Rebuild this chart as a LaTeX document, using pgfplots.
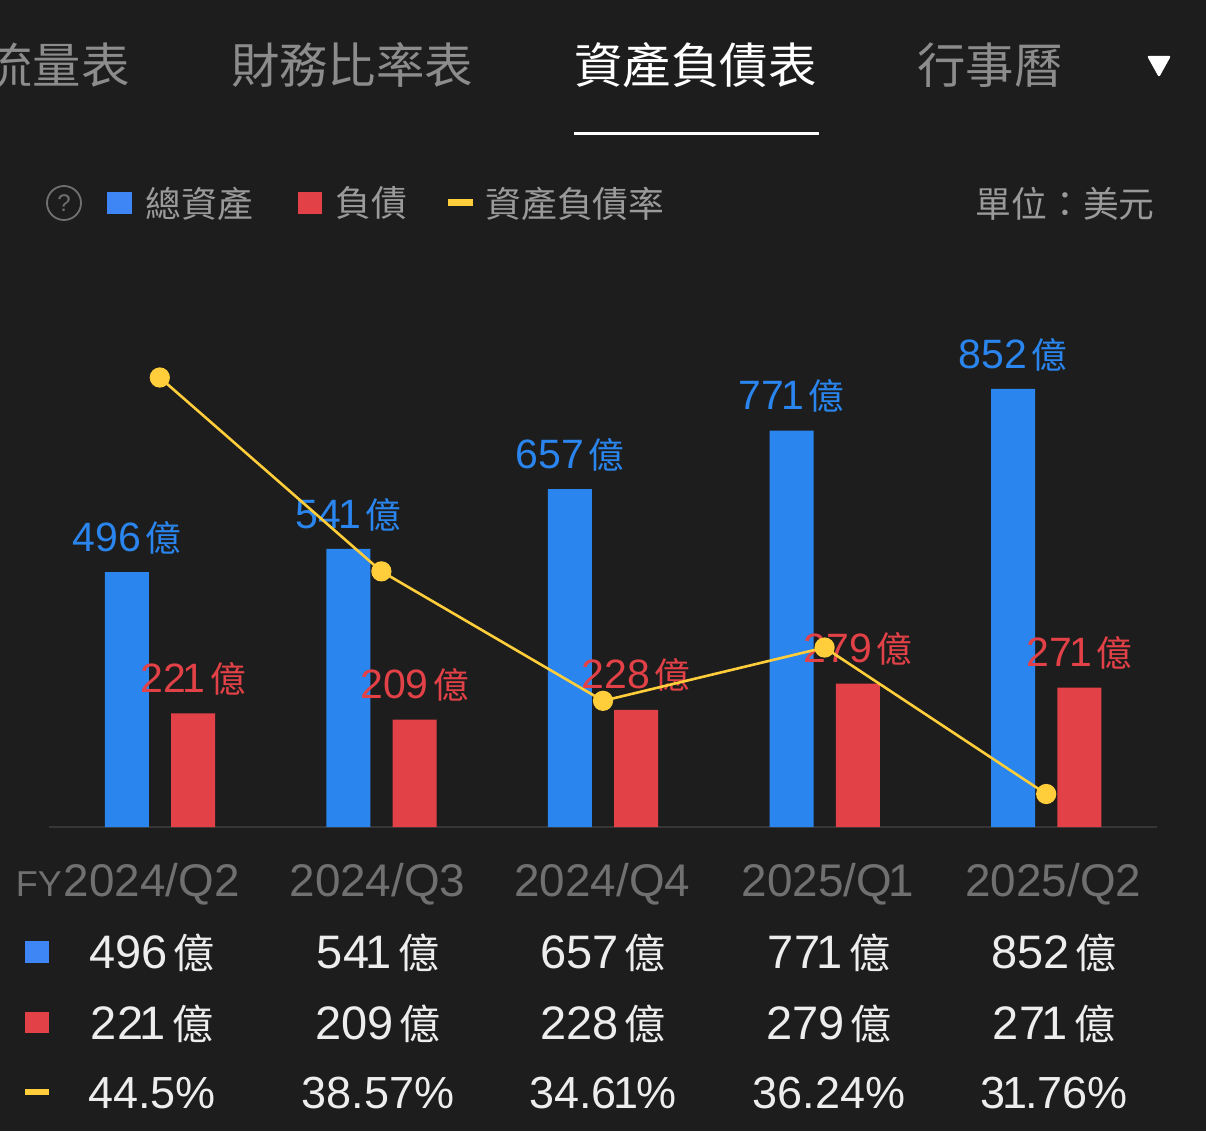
\documentclass[border=0pt]{standalone}
\usepackage{fontspec}
\setmainfont{Liberation Sans}
\newfontfamily\cjk{Noto Sans CJK TC}
\usepackage{pgfplots}
\usepackage{pgfplotstable}
\pgfplotsset{compat=1.18}

% the reference sets a narrow digit one
\XeTeXinterchartokenstate=1
\newXeTeXintercharclass\oneclass
\XeTeXcharclass`1=\oneclass
\XeTeXinterchartoks 0 \oneclass={\kern-0.07em }
\XeTeXinterchartoks \oneclass 0 ={\kern-0.04em }

\definecolor{bg}{HTML}{1D1D1D}
\definecolor{barblue}{HTML}{2A85EE}
\definecolor{keyblue}{HTML}{3E86F5}
\definecolor{barred}{HTML}{E24147}
\definecolor{lineyellow}{HTML}{FFCE3A}
\definecolor{tabgray}{HTML}{8C8C8C}
\definecolor{leggray}{HTML}{9A9A9A}
\definecolor{tickgray}{HTML}{707070}
\definecolor{tabletext}{HTML}{EDEDED}
\definecolor{axisgray}{HTML}{363636}

% quarter  assets  liabilities  ratio
\pgfplotstableread{
x assets debt ratio
0 496 221 44.5
1 541 209 38.57
2 657 228 34.61
3 771 279 36.24
4 852 271 31.76
}\sheet

\newcommand{\hd}[1]{{\cjk\fontsize{24.2}{25}\selectfont #1}}
\newcommand{\lgd}[1]{{\cjk\fontsize{17.9}{18}\selectfont #1}}
\newcommand{\yi}[1]{{\fontsize{23.5}{24}\selectfont #1\kern3pt\cjk\fontsize{20.5}{24}\selectfont 億}}
\newcommand{\pc}[1]{{\fontsize{22.5}{24}\selectfont #1\%}}

\pgfplotsset{
  sameframe/.style={
    at={(24.5pt,-413.5pt)}, anchor=south west,
    scale only axis, width=554pt, height=288.5pt,
    xmin=-0.5, xmax=4.5, clip=false,
  },
  barlabel/.style={
    nodes near coords={\fontsize{20.5}{21}\selectfont\pgfmathprintnumber[int trunc, assume math mode=true]{\pgfplotspointmeta}\kern2.2pt\cjk\fontsize{17.8}{21}\selectfont 億},
    every node near coord/.append style={anchor=center, yshift=17.2pt, inner sep=0pt, text=#1},
  },
}

\begin{document}
\begin{tikzpicture}
  \path[use as bounding box, fill=bg] (0,0) rectangle (603pt,-565.5pt);

  \begin{scope}[x=0.5pt, y=-0.5pt]
    \clip (0,0) rectangle (1206,1131);
    % tabs
    \node[anchor=east, inner sep=0pt, text=tabgray] at (130,65) {\hd{流量表}};
    \node[inner sep=0pt, text=tabgray] at (352,65) {\hd{財務比率表}};
    \node[inner sep=0pt, text=white] at (695.5,65) {\hd{資產負債表}};
    \node[inner sep=0pt, text=tabgray] at (990,65) {\hd{行事曆}};
    \fill[white, draw=white, line width=1.2pt, line join=round] (1149,57) -- (1169,57) -- (1159,75) -- cycle;
    \fill[white] (574,131.5) rectangle (819,134.5);

    % legend row
    \draw[tickgray, line width=0.9pt] (64,203) circle (17);
    \node[inner sep=0pt, text=tickgray] at (64,203) {\fontsize{12}{12}\selectfont ?};
    \fill[keyblue] (107,192) rectangle (132,214);
    \node[anchor=west, inner sep=0pt, text=leggray] at (145,203.5) {\lgd{總資產}};
    \fill[barred] (298,192) rectangle (322,214);
    \node[anchor=west, inner sep=0pt, text=leggray] at (335,203.5) {\lgd{負債}};
    \fill[lineyellow] (448,199) rectangle (473,206);
    \node[anchor=west, inner sep=0pt, text=leggray] at (485,203.5) {\lgd{資產負債率}};
    \node[anchor=east, inner sep=0pt, text=leggray] at (1155,203.5) {\lgd{單位：美元}};

    % table under the chart
    \node[inner sep=0pt, text=tickgray] at (39,884) {\fontsize{18}{18}\selectfont FY};
    \fill[keyblue] (25,941) rectangle (49,963);
    \fill[barred] (25,1012) rectangle (49,1033);
    \fill[lineyellow] (25,1089) rectangle (49,1095);

    \node[inner sep=0pt, text=tabletext] at (152,953) {\yi{496}};
    \node[inner sep=0pt, text=tabletext] at (378,953) {\yi{541}};
    \node[inner sep=0pt, text=tabletext] at (603,953) {\yi{657}};
    \node[inner sep=0pt, text=tabletext] at (829,953) {\yi{771}};
    \node[inner sep=0pt, text=tabletext] at (1054,953) {\yi{852}};

    \node[inner sep=0pt, text=tabletext] at (152,1024) {\yi{221}};
    \node[inner sep=0pt, text=tabletext] at (378,1024) {\yi{209}};
    \node[inner sep=0pt, text=tabletext] at (603,1024) {\yi{228}};
    \node[inner sep=0pt, text=tabletext] at (829,1024) {\yi{279}};
    \node[inner sep=0pt, text=tabletext] at (1054,1024) {\yi{271}};

    \node[inner sep=0pt, text=tabletext] at (152,1093) {\pc{44.5}};
    \node[inner sep=0pt, text=tabletext] at (378,1093) {\pc{38.57}};
    \node[inner sep=0pt, text=tabletext] at (603,1093) {\pc{34.61}};
    \node[inner sep=0pt, text=tabletext] at (829,1093) {\pc{36.24}};
    \node[inner sep=0pt, text=tabletext] at (1054,1093) {\pc{31.76}};
  \end{scope}

  % bars
  \begin{axis}[
    sameframe,
    ymin=0, ymax=1122.3,
    ybar, bar width=22pt,
    axis x line*=bottom, axis y line=none,
    axis line style={draw=axisgray, line width=1.3pt, -},
    xtick={-0.036,0.982,1.997,3.016,4.032},
    xticklabels={2024/Q2,2024/Q3,2024/Q4,2025/Q1,2025/Q2},
    major tick length=0pt,
    xticklabel style={anchor=center, yshift=-28.5pt, text=tickgray,
      font=\fontsize{22.9}{24}\selectfont},
  ]
    \addplot[fill=barblue, draw=none, bar shift=-16.5pt, barlabel=barblue]
      table[x=x, y=assets] {\sheet};
    \addplot[fill=barred, draw=none, bar shift=16.6pt, barlabel=barred]
      table[x=x, y=debt] {\sheet};
  \end{axis}

  % ratio line on its own scale
  \begin{axis}[
    sameframe,
    ymin=30.75, ymax=48.4,
    hide axis,
  ]
    \addplot[lineyellow, line width=1.3pt, mark=*, mark size=4.4pt,
      mark options={fill=lineyellow, draw=none}]
      table[x=x, y=ratio] {\sheet};
  \end{axis}
\end{tikzpicture}
\end{document}
